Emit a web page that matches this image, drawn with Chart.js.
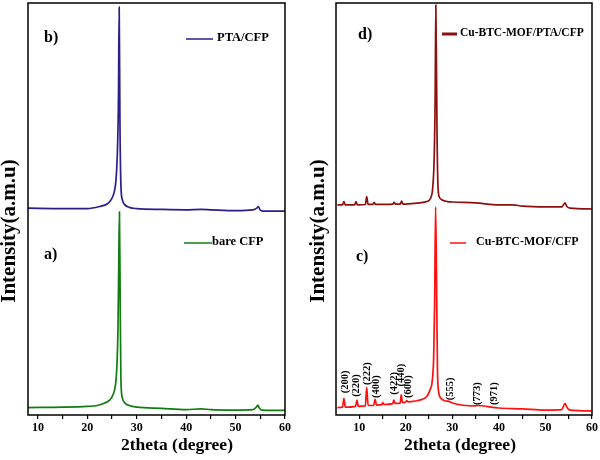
<!DOCTYPE html>
<html>
<head>
<meta charset="utf-8">
<script src="https://cdn.jsdelivr.net/npm/chart.js@4.4.1/dist/chart.umd.min.js"></script>
<style>
  body { margin: 0; background: #fff; }
  #wrap { display: flex; width: 600px; height: 460px; }
  canvas { display: block; }
</style>
</head>
<body>
<div id="wrap">
  <canvas id="left" width="300" height="460"></canvas>
  <canvas id="right" width="300" height="460"></canvas>
</div>
<script>
// a) bare CFP
const thetaA = [8, 15, 20, 22, 23.5, 24.5, 25.2, 25.7, 26.0, 26.2, 26.35, 26.5, 26.65, 26.8, 27.1, 27.6, 28.5, 30, 35, 40, 43, 45, 50, 53.5, 54.2, 54.5, 54.8, 55.3, 60];
const intA   = [1.8, 1.9, 2.1, 2.3, 2.9, 3.6, 4.9, 7.3, 12.1, 20.6, 35.2, 49.3, 27.9, 8.5, 4.1, 2.9, 2.3, 1.9, 1.6, 1.3, 1.5, 1.3, 1.2, 1.3, 1.9, 2.4, 1.7, 1.2, 1.1];

// b) PTA/CFP
const thetaB = [8, 15, 20, 22.5, 24, 24.8, 25.4, 25.8, 26.1, 26.3, 26.45, 26.6, 26.8, 27.1, 27.6, 28.5, 30, 35, 40, 43, 45, 50, 53.5, 54.3, 54.6, 54.9, 55.5, 60];
const intB   = [50.2, 50.1, 50.1, 50.6, 51.2, 52.2, 53.9, 57.0, 64.3, 76.5, 99.0, 71.6, 55.8, 52.2, 51.0, 50.4, 50.1, 49.9, 49.8, 49.9, 49.8, 49.6, 49.8, 50.2, 50.6, 49.9, 49.5, 49.5];

// c) Cu-BTC-MOF/CFP
const thetaC = [5.3, 6.4, 6.7, 7.0, 9.2, 9.5, 9.8, 11.3, 11.6, 11.9, 13.1, 13.4, 13.7, 14.8, 15.0, 15.3, 17.2, 17.4, 17.7, 18.8, 19.0, 19.3, 20.0, 20.2, 20.5, 22, 23.5, 24.5, 25.2, 25.7, 26.0, 26.2, 26.4, 26.6, 26.8, 27.1, 27.6, 28.5, 29.3, 30, 35, 35.2, 40, 45, 50, 53.5, 54.2, 54.6, 55.2, 60];
const intC   = [1.8, 1.9, 4.05, 1.9, 2.1, 3.6, 2.1, 2.2, 6.7, 2.3, 2.35, 3.8, 2.4, 2.5, 3.0, 2.55, 2.75, 3.6, 2.8, 2.9, 4.9, 3.0, 3.2, 3.5, 3.2, 3.4, 3.8, 4.5, 6.1, 8.5, 14.6, 27.9, 50.5, 32.8, 10.9, 5.3, 4.0, 3.4, 3.3, 2.9, 2.2, 2.3, 1.7, 1.5, 1.2, 1.3, 2.8, 1.9, 1.2, 1.0];

// d) Cu-BTC-MOF/PTA/CFP
const thetaD = [5.3, 6.4, 6.7, 7.0, 9.0, 9.3, 9.6, 11.3, 11.6, 11.9, 12.9, 13.2, 13.5, 17.2, 17.5, 17.8, 18.8, 19.1, 19.4, 20, 23, 24.5, 25.3, 25.8, 26.1, 26.3, 26.45, 26.7, 26.9, 27.2, 27.8, 29, 30, 35, 40, 43, 45, 50, 53.5, 54.2, 54.6, 55.3, 60];
const intD   = [51.0, 51.0, 51.8, 51.0, 51.0, 51.8, 51.0, 51.1, 53.0, 51.1, 51.1, 51.6, 51.1, 51.2, 51.6, 51.2, 51.2, 51.9, 51.2, 51.2, 51.5, 51.8, 52.6, 55.4, 62.7, 76.5, 99.5, 68.9, 55.8, 52.9, 52.2, 51.8, 51.7, 51.5, 51.0, 51.0, 50.7, 50.5, 50.5, 51.5, 50.6, 50.2, 50.0];

// Miller indices for Cu-BTC peaks
const hklLabels = ['(200)', '(220)', '(222)', '(400)', '(422)', '(440)', '(600)', '(555)', '(773)', '(971)'];
const hklTheta  = [6.9, 9.4, 11.8, 13.6, 17.5, 19.1, 20.5, 29.6, 35.3, 39.0];
const hklLevel  = [5.3, 4.4, 7.3, 4.1, 4.9, 6.9, 4.1, 3.6, 2.4, 2.4];

const xTicks = [10, 15, 20, 25, 30, 35, 40, 45, 50, 55, 60];

const serif = '"Liberation Serif", "Times New Roman", serif';

function pts(xs, ys) {
  return xs.map((x, i) => ({ x: x, y: ys[i] }));
}

function line(data, color) {
  return {
    data: data,
    borderColor: color,
    borderWidth: 1.7,
    pointRadius: 0,
    cubicInterpolationMode: 'monotone',
    fill: false
  };
}

function scales(xmin) {
  return {
    x: {
      type: 'linear', min: xmin, max: 60,
      afterBuildTicks: s => { s.ticks = xTicks.map(v => ({ value: v })); },
      afterFit: s => { s.height = 45; s.paddingLeft = 0; s.paddingRight = 0; },
      ticks: {
        callback: v => (v % 10 === 0 ? v : ''),
        font: { family: serif, weight: 'bold', size: 12 },
        color: '#000', padding: 2, maxRotation: 0, autoSkip: false
      },
      grid: { drawOnChartArea: false, drawTicks: true, tickLength: 4, color: '#000', lineWidth: 1.2 },
      border: { display: false }
    },
    y: {
      min: 0, max: 100,
      afterFit: s => { s.width = 0; },
      ticks: { display: false },
      grid: { display: false },
      border: { display: false }
    }
  };
}

// frame, panel letters, legends and axis titles
function notes(cfg) {
  return {
    id: 'notes',
    afterDraw(chart) {
      const ctx = chart.ctx, ca = chart.chartArea;
      ctx.save();
      ctx.strokeStyle = '#000';
      ctx.lineWidth = 1.5;
      ctx.strokeRect(ca.left, ca.top, ca.right - ca.left, ca.bottom - ca.top);

      ctx.fillStyle = '#000';
      ctx.textBaseline = 'middle';
      ctx.textAlign = 'left';
      ctx.font = 'bold 16px ' + serif;
      cfg.letters.forEach(l => ctx.fillText(l[0], l[1], l[2]));

      cfg.legends.forEach(l => {
        ctx.strokeStyle = l.color;
        ctx.lineWidth = l.lw;
        ctx.beginPath();
        ctx.moveTo(l.x0, l.y);
        ctx.lineTo(l.x1, l.y);
        ctx.stroke();
        ctx.font = 'bold ' + l.size + 'px ' + serif;
        ctx.fillText(l.text, l.tx, l.y - 1);
      });

      ctx.textAlign = 'center';
      ctx.font = 'bold 17.5px ' + serif;
      ctx.fillText('2theta (degree)', cfg.xTitle, 445);

      ctx.save();
      ctx.translate(cfg.yTitle, 231);
      ctx.rotate(-Math.PI / 2);
      ctx.font = 'bold 21px ' + serif;
      ctx.fillText('Intensity(a.m.u)', 0, 0);
      ctx.restore();

      if (cfg.hkl) {
        const xs = chart.scales.x, ys = chart.scales.y;
        ctx.font = 'bold 10.5px ' + serif;
        ctx.textAlign = 'left';
        hklLabels.forEach((t, i) => {
          ctx.save();
          ctx.translate(xs.getPixelForValue(hklTheta[i]), ys.getPixelForValue(hklLevel[i]));
          ctx.rotate(-Math.PI / 2);
          ctx.fillText(t, 0, 0);
          ctx.restore();
        });
      }
      ctx.restore();
    }
  };
}

const common = {
  responsive: false,
  animation: false,
  events: [],
  plugins: { legend: { display: false }, tooltip: { enabled: false } }
};

new Chart(document.getElementById('left'), {
  type: 'line',
  data: { datasets: [line(pts(thetaA, intA), '#0f7d0f'), line(pts(thetaB, intB), '#2b1d8c')] },
  options: Object.assign({}, common, {
    layout: { padding: { left: 28, right: 15, top: 3, bottom: 0 } },
    scales: scales(8)
  }),
  plugins: [notes({
    letters: [['b)', 44, 38], ['a)', 44, 255]],
    legends: [
      { text: 'PTA/CFP', color: '#2b1d8c', lw: 1.5, x0: 186, x1: 213, tx: 217, y: 39, size: 12.5 },
      { text: 'bare CFP', color: '#0f7d0f', lw: 1.5, x0: 184, x1: 212, tx: 212, y: 243, size: 12.5 }
    ],
    xTitle: 177, yTitle: 10, hkl: false
  })]
});

new Chart(document.getElementById('right'), {
  type: 'line',
  data: { datasets: [line(pts(thetaC, intC), '#ff0f0f'), line(pts(thetaD, intD), '#8b1010')] },
  options: Object.assign({}, common, {
    layout: { padding: { left: 36, right: 8, top: 3, bottom: 0 } },
    scales: scales(5)
  }),
  plugins: [notes({
    letters: [['d)', 58, 35], ['c)', 56, 257]],
    legends: [
      { text: 'Cu-BTC-MOF/PTA/CFP', color: '#8b1010', lw: 3, x0: 142, x1: 157, tx: 160, y: 34, size: 11.5 },
      { text: 'Cu-BTC-MOF/CFP', color: '#ff0f0f', lw: 1.5, x0: 150, x1: 166, tx: 176, y: 243, size: 12 }
    ],
    xTitle: 160, yTitle: 19, hkl: true
  })]
});
</script>
</body>
</html>
